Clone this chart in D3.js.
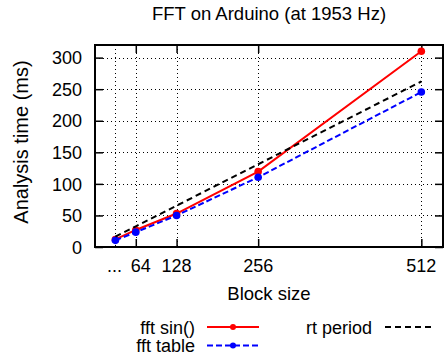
<!DOCTYPE html>
<html>
<head>
<meta charset="utf-8">
<script src="https://cdn.jsdelivr.net/npm/d3@7"></script>
<style>
  body { margin: 0; background: #fff; }
  svg { display: block; font-family: "Liberation Sans", Arial, sans-serif; }
</style>
</head>
<body>
<svg id="chart" width="444" height="355"></svg>
<script>
// block sizes (x) and timings (ms)
const blockSizes = [32, 64, 128, 256, 512];
const tickLabels = ["...", "64", "128", "256", "512"];
const fftSin = [12, 27, 53, 119.5, 310];
const fftTable = [10.5, 23.5, 50, 110.5, 245.5];
const rtPeriod = [16.4, 32.8, 65.5, 131.1, 262.2];
const yTicks = [0, 50, 100, 150, 200, 250, 300];

const svg = d3.select("#chart");
const pLeft = 95, pRight = 443, pTop = 45, pBottom = 247;

const x = d3.scaleLinear().domain([0, 546]).range([pLeft, pRight]);
const y = d3.scaleLinear().domain([0, 320]).range([pBottom, pTop]);

// grid
const grid = svg.append("g").attr("stroke", "#000").attr("stroke-width", 1).attr("stroke-dasharray", "1,3");
yTicks.filter(v => v > 0).forEach(v => {
    grid.append("line").attr("x1", pLeft).attr("x2", pRight).attr("y1", Math.round(y(v)) + 0.5).attr("y2", Math.round(y(v)) + 0.5);
});
blockSizes.forEach(v => {
    grid.append("line").attr("x1", Math.round(x(v)) + 0.5).attr("x2", Math.round(x(v)) + 0.5).attr("y1", pTop).attr("y2", pBottom);
});

// axes (ticks pointing inward, mirrored like gnuplot)
const yAxis = svg.append("g").attr("transform", `translate(${pLeft},0)`)
    .call(d3.axisLeft(y).tickValues(yTicks).tickSize(-8).tickPadding(13));
const yAxisR = svg.append("g").attr("transform", `translate(${pRight},0)`)
    .call(d3.axisRight(y).tickValues(yTicks).tickSize(-8).tickFormat(""));
const xAxis = svg.append("g").attr("transform", `translate(0,${pBottom})`)
    .call(d3.axisBottom(x).tickValues(blockSizes.slice(1)).tickSize(-8).tickFormat(""));
const xAxisT = svg.append("g").attr("transform", `translate(0,${pTop})`)
    .call(d3.axisTop(x).tickValues(blockSizes.slice(1)).tickSize(-8).tickFormat(""));
[yAxis, yAxisR, xAxis, xAxisT].forEach(a => {
    a.select(".domain").remove();
    a.selectAll(".tick line").attr("stroke", "#000").attr("stroke-width", 1.5);
});
yAxis.selectAll(".tick text").attr("font-size", 18).attr("fill", "#000")
    .attr("font-family", "Liberation Sans").attr("dy", "0.34em");

// x tick labels
svg.append("g").selectAll("text").data(blockSizes).enter().append("text")
    .attr("x", (d, i) => i === 1 ? x(d) + 5 : (i === 0 ? x(d) - 1 : x(d)))
    .attr("y", 272)
    .attr("text-anchor", "middle").attr("font-size", 18).attr("fill", "#000")
    .text((d, i) => tickLabels[i]);

// series
const line = d3.line().x((d, i) => x(blockSizes[i])).y(d => y(d));
const series = [
    { name: "fft sin()", vals: fftSin, color: "#ff0000", dash: null, dots: true },
    { name: "fft table", vals: fftTable, color: "#0000ff", dash: "6,3", dots: true },
    { name: "rt period", vals: rtPeriod, color: "#000000", dash: "6,4", dots: false }
];
series.forEach(s => {
    svg.append("path").datum(s.vals).attr("d", line)
        .attr("fill", "none").attr("stroke", s.color).attr("stroke-width", 2)
        .attr("stroke-dasharray", s.dash);
    if (s.dots) {
        svg.append("g").selectAll("circle").data(s.vals).enter().append("circle")
            .attr("cx", (d, i) => x(blockSizes[i])).attr("cy", d => y(d)).attr("r", 3.8)
            .attr("fill", s.color);
    }
});

// frame
svg.append("rect").attr("x", pLeft).attr("y", pTop).attr("width", pRight - pLeft).attr("height", pBottom - pTop)
    .attr("fill", "none").attr("stroke", "#000").attr("stroke-width", 2);

// texts
svg.append("text").attr("x", 269).attr("y", 20).attr("text-anchor", "middle")
    .attr("font-size", 18.5).attr("fill", "#000").text("FFT on Arduino (at 1953 Hz)");
svg.append("text").attr("x", 269).attr("y", 300).attr("text-anchor", "middle")
    .attr("font-size", 18.5).attr("fill", "#000").text("Block size");
svg.append("text").attr("transform", "translate(28,142) rotate(-90)")
    .attr("text-anchor", "middle").attr("font-size", 20).attr("fill", "#000").text("Analysis time (ms)");

// legend
const legendItems = [
    { s: series[0], tx: 195, lx1: 207, lx2: 259, ly: 327 },
    { s: series[1], tx: 195, lx1: 207, lx2: 259, ly: 345.5 },
    { s: series[2], tx: 372, lx1: 385, lx2: 433, ly: 327 }
];
legendItems.forEach(it => {
    svg.append("text").attr("x", it.tx).attr("y", it.ly + 6.5).attr("text-anchor", "end")
        .attr("font-size", 18).attr("fill", "#000").text(it.s.name);
    svg.append("line").attr("x1", it.lx1).attr("x2", it.lx2).attr("y1", it.ly).attr("y2", it.ly)
        .attr("stroke", it.s.color).attr("stroke-width", 2).attr("stroke-dasharray", it.s.dash);
    if (it.s.dots) {
        svg.append("circle").attr("cx", (it.lx1 + it.lx2) / 2).attr("cy", it.ly).attr("r", 3).attr("fill", it.s.color);
    }
});
</script>
</body>
</html>
